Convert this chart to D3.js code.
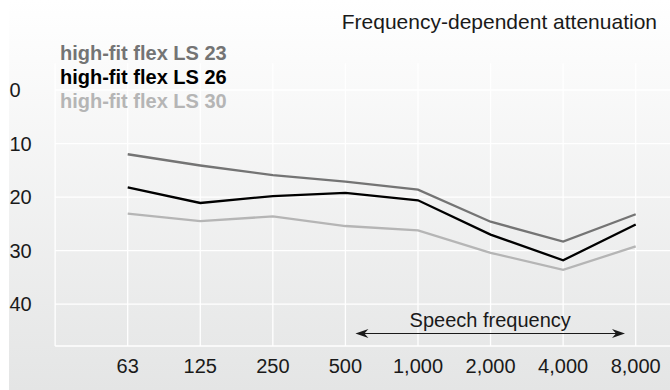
<!DOCTYPE html>
<html>
<head>
<meta charset="utf-8">
<script src="https://cdn.jsdelivr.net/npm/d3@7"></script>
<style>
  html, body { margin: 0; padding: 0; background: #fff; }
  svg { display: block; font-family: "Liberation Sans", Arial, Helvetica, sans-serif; }
</style>
</head>
<body>
<svg id="chart" width="670" height="390"></svg>
<script>
const categories = ["63", "125", "250", "500", "1,000", "2,000", "4,000", "8,000"];
const yTicks = [0, 10, 20, 30, 40];
const seriesNames = ["high-fit flex LS 23", "high-fit flex LS 26", "high-fit flex LS 30"];
const ls23 = [12.0, 14.1, 15.9, 17.1, 18.6, 24.6, 28.3, 23.2];
const ls26 = [18.2, 21.1, 19.8, 19.2, 20.6, 27.0, 31.8, 25.1];
const ls30 = [23.1, 24.5, 23.6, 25.4, 26.2, 30.4, 33.6, 29.2];
const seriesColors = ["#747474", "#000000", "#b5b5b5"];
const title = "Frequency-dependent attenuation";
const speechLabel = "Speech frequency";
const speechRange = ["500", "8,000"];

const svg = d3.select("#chart");
const W = 670, H = 390;

// background gradient
const defs = svg.append("defs");
const grad = defs.append("linearGradient").attr("id", "bg")
  .attr("x1", 0).attr("y1", 0).attr("x2", 0).attr("y2", 1);
grad.append("stop").attr("offset", "0%").attr("stop-color", "#ffffff");
grad.append("stop").attr("offset", "100%").attr("stop-color", "#e4e5e5");
svg.append("rect").attr("x", 9).attr("y", 0).attr("width", W - 9).attr("height", H)
  .attr("fill", "url(#bg)");

const x = d3.scalePoint().domain(categories).range([127.7, 635.7]);
const step = x.step();
const plotLeft = x(categories[0]) - step;
const plotRight = W;
const y = d3.scaleLinear().domain([0, 40]).range([90, 304.2]);
const plotTop = y(-5);
const plotBottom = 346;

const grid = svg.append("g").attr("stroke", "#ffffff").attr("stroke-width", 1.3);
grid.selectAll("line.h").data(yTicks).join("line")
  .attr("x1", plotLeft).attr("x2", plotRight)
  .attr("y1", d => y(d)).attr("y2", d => y(d));
grid.selectAll("line.v").data(categories).join("line")
  .attr("x1", d => x(d)).attr("x2", d => x(d))
  .attr("y1", plotTop).attr("y2", plotBottom);
grid.append("line").attr("x1", plotLeft).attr("x2", plotLeft).attr("y1", plotTop).attr("y2", plotBottom);
grid.append("line").attr("x1", plotLeft).attr("x2", plotRight).attr("y1", plotBottom).attr("y2", plotBottom);

// y labels
svg.append("g").selectAll("text").data(yTicks).join("text")
  .attr("x", 9.5).attr("y", d => y(d)).attr("dy", "0.35em")
  .attr("font-size", 20).attr("fill", "#1a1a1a")
  .text(d => d);

// x labels
svg.append("g").selectAll("text").data(categories).join("text")
  .attr("x", d => x(d)).attr("y", 373).attr("text-anchor", "middle")
  .attr("font-size", 20).attr("fill", "#1a1a1a")
  .text(d => d);

// lines
const seriesData = [ls23, ls26, ls30];
const line = d3.line().x((d, i) => x(categories[i])).y(d => y(d));
[2, 0, 1].forEach(k => {
  svg.append("path").datum(seriesData[k])
    .attr("fill", "none").attr("stroke", seriesColors[k])
    .attr("stroke-width", 2.3).attr("stroke-linejoin", "miter")
    .attr("d", line);
});

// legend
svg.append("g").selectAll("text").data(seriesNames).join("text")
  .attr("x", 60).attr("y", (d, i) => 60 + i * 24)
  .attr("font-size", 20).attr("font-weight", "bold")
  .attr("fill", (d, i) => seriesColors[i])
  .text(d => d);

// title
svg.append("text").attr("x", 657).attr("y", 29).attr("text-anchor", "end")
  .attr("font-size", 21).attr("fill", "#1a1a1a").text(title);

// speech frequency arrow
const ax1 = x(speechRange[0]) + 10, ax2 = x(speechRange[1]) - 10.7, ay = 333.5;
svg.append("line").attr("x1", ax1 + 4).attr("x2", ax2 - 4).attr("y1", ay).attr("y2", ay)
  .attr("stroke", "#1a1a1a").attr("stroke-width", 1.2);
const head = (tx, dir) => {
  const L = 13, h = 4.5, notch = 4;
  return `M${tx},${ay} L${tx + dir * L},${ay - h} L${tx + dir * (L - notch)},${ay} L${tx + dir * L},${ay + h} Z`;
};
svg.append("path").attr("d", head(ax1, 1)).attr("fill", "#1a1a1a");
svg.append("path").attr("d", head(ax2, -1)).attr("fill", "#1a1a1a");
svg.append("text").attr("x", (ax1 + ax2) / 2).attr("y", 327).attr("text-anchor", "middle")
  .attr("font-size", 20).attr("fill", "#1a1a1a").text(speechLabel);
</script>
</body>
</html>
